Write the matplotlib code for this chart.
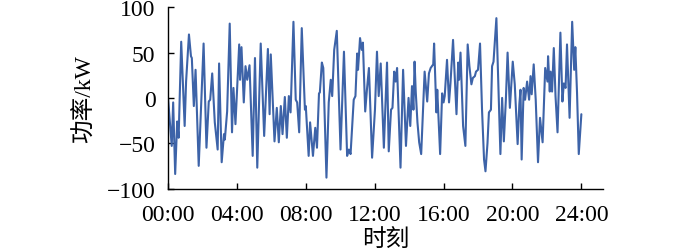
import numpy as np
import matplotlib.pyplot as plt

# time of each vertex (minutes after 00:00) and power (kW)
minutes = [0, 13, 18, 25, 32, 37, 46, 58, 63, 73, 80, 83, 90, 96, 107, 124, 134, 142, 147, 154,
           163, 173, 178, 187, 195, 198, 206, 215, 223, 228, 235, 248, 251, 256, 264, 270, 276, 284,
           295, 303, 311, 323, 335, 348, 354, 358, 371, 379, 386, 393, 399, 407, 414, 421, 427, 437,
           445, 450, 457, 466, 477, 480, 490, 495, 505, 513, 519, 526, 529, 536, 541, 552, 560, 567,
           572, 579, 588, 601, 613, 624, 630, 636, 647, 653, 659, 662, 669, 675, 679, 687, 693, 700,
           711, 721, 728, 734, 741, 752, 763, 769, 777, 782, 788, 793, 798, 810, 819, 829, 838, 844,
           850, 855, 859, 863, 869, 875, 882, 894, 903, 909, 915, 924, 927, 935, 938, 948, 955, 960,
           964, 972, 979, 984, 993, 1005, 1011, 1014, 1019, 1028, 1036, 1044, 1050, 1057, 1062, 1069,
           1073, 1080, 1087, 1094, 1101, 1106, 1113, 1118, 1125, 1129, 1134, 1144, 1153, 1158, 1164,
           1170, 1177, 1183, 1191, 1201, 1208, 1218, 1224, 1228, 1232, 1239, 1244, 1251, 1258, 1263,
           1267, 1274, 1281, 1289, 1296, 1305, 1314, 1322, 1324, 1330, 1333, 1338, 1344, 1350, 1357,
           1367, 1374, 1379, 1385, 1390, 1399, 1408, 1415, 1419, 1425, 1431, 1440]
power = [0, -53, -5, -84, -26, -44, 62, -31, 18, 70, 46, 44, -9, 31, -75, 60, -55, -4, -2, 27,
         -27, -57, 38, -71, -40, -46, -15, 82, -38, 11, -29, 59, 20, 56, -5, 35, 20, 36,
         -64, 44, -77, 60, -42, 54, -18, 48, -48, -11, -49, -9, -40, 1, -44, 2, -16, 84,
         -2, -5, -38, 77, -13, -9, -64, -27, -64, -33, -55, 5, 6, 39, 33, -88, -5, 20,
         2, 53, 74, -57, 51, -64, -57, -62, -2, 2, 49, 31, 66, 53, 61, -15, 9, 33,
         -66, -13, 51, 2, 38, -55, 39, -59, -13, -11, 29, 18, 33, -77, 31, -53, 0, -31,
         13, -13, 40, 7, -27, -49, -62, 29, -4, 27, 33, 37, 60, -16, 9, -62, 5, -5,
         2, 42, -5, 16, 64, -18, 39, 20, 50, -31, -53, 59, 35, 15, 22, 24,
         29, 31, 60, -13, -68, -81, -50, -16, -13, 35, 40, 88, -9, -62, 0,
         -48, -2, 50, -11, 40, 15, -51, -7, 9, -68, 11, -2, 18, -2, 24,
         4, 37, -2, -71, -22, -49, 33, 18, 46, 7, 29, 7, 55, 2, -38,
         72, -4, 16, 11, 59, -22, 84, 31, 56, 5, -62, -18]
tick_hours = [0, 4, 8, 12, 16, 20, 24]
tick_labels = ['00:00', '04:00', '08:00', '12:00', '16:00', '20:00', '24:00']
y_ticks = [-100, -50, 0, 50, 100]

plt.rcParams['font.family'] = ['Liberation Serif', 'Noto Sans CJK SC']
plt.rcParams['font.size'] = 17

fig = plt.figure(figsize=(7, 2.51), dpi=100)
ax = fig.add_axes([0.240, 0.245, 0.622, 0.722])

hours = np.array(minutes) / 60.0
ax.plot(hours, power, color='#3d63a8', linewidth=1.5,
        solid_joinstyle='round', solid_capstyle='round')

ax.set_xlim(0, 25.28)
ax.set_ylim(-100, 100)
ax.set_xticks(tick_hours)
ax.set_xticklabels(tick_labels)
ax.set_yticks(y_ticks)
ax.tick_params(direction='in', length=4, width=1)
ax.tick_params(axis='x', pad=11)
ax.tick_params(axis='y', pad=9)
for side in ['top', 'right']:
    ax.spines[side].set_visible(False)
for side in ['left', 'bottom']:
    ax.spines[side].set_linewidth(1)

ax.set_xlabel('时刻', labelpad=3)
ax.set_ylabel('功率/kW', labelpad=8)

fig.savefig('out.png', dpi=100)
